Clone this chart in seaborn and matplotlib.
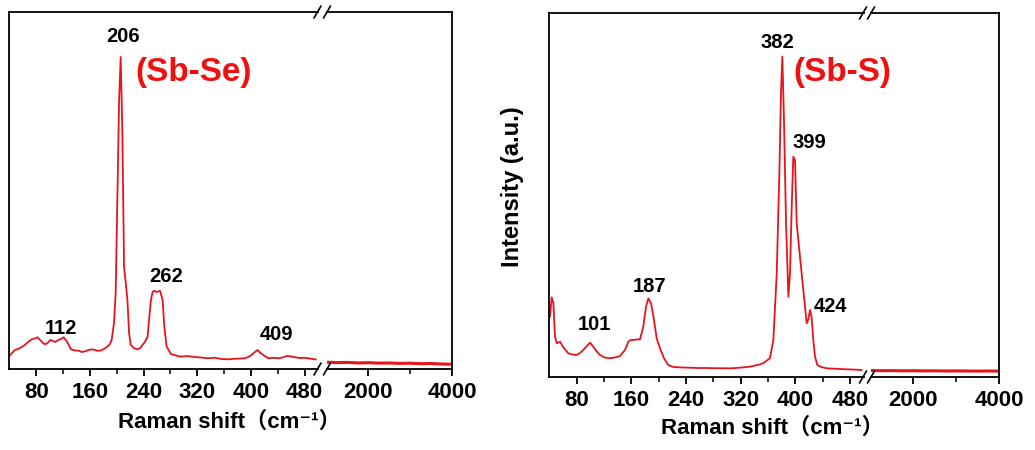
import matplotlib
matplotlib.use('Agg')
import matplotlib.pyplot as plt
from matplotlib.lines import Line2D
from matplotlib.ticker import FixedLocator
import seaborn as sns

# Sb-Se spectrum (low-shift part, 40-500 cm-1)
se_x = [40, 44, 48.5, 53, 58.6, 63, 68, 73.6, 78, 82, 86, 90, 93.5, 97, 101, 105, 108.5,
        113, 117, 121, 126, 132, 138, 143.5, 148, 153.5, 158, 163.5, 170, 176, 181, 186,
        190, 192.5, 196, 198.5, 201, 203.6, 206, 208.5, 211, 213.5, 216, 218.5, 221, 226,
        231, 235, 238.5, 242, 246, 251, 253.6, 256, 258.5, 261, 264.5, 268.5, 271, 274.5,
        281, 288, 296, 305, 316, 326, 336, 346, 356, 366, 378, 391, 396, 401, 405, 410,
        414, 418.5, 426, 434, 441, 447, 453.5, 460, 466, 473, 480, 486, 492, 497]
se_y = [13, 16, 19, 20, 22, 24, 27, 29.7, 30.5, 31.7, 29, 26, 24.7, 26, 29, 28, 27,
        29, 30, 31.7, 27.3, 19.7, 18.5, 18.3, 17, 17.7, 19, 19.7, 18.5, 18.3, 20, 22.3,
        25, 29, 45.7, 76, 169, 269, 312, 236, 102, 86, 69, 36, 24, 20.7,
        19.7, 21, 24, 27, 32.3, 69, 77.3, 78.3, 77, 77.3, 78.3, 69, 42.3, 22.3,
        15, 13.5, 12.3, 13, 12, 11.5, 10.7, 11.3, 10, 9.7, 10.3, 10.7, 12, 14, 16.5, 19,
        16, 14, 10.7, 11.2, 10.7, 11.5, 13, 12.5, 11.7, 11, 11.2, 10.7, 10, 9.5]
# Sb-Se high-shift part
se_far_x = [1000, 1250, 1500, 1750, 2000, 2250, 2500, 2750, 3000, 3250, 3500, 3750, 4000]
se_far_y = [6.8, 6.4, 6.6, 6.1, 6.3, 5.9, 6.0, 5.6, 5.8, 5.3, 5.5, 5.0, 4.8]

# Sb-S spectrum
sbs_x = [41, 43.5, 46, 48.3, 51, 55.7, 60.5, 67.8, 74, 80, 85, 89.8, 95, 99.6, 104.4, 109,
         114.2, 121, 128.9, 136, 143.5, 150.8, 155.7, 159, 163, 168, 172.8, 177.6, 181.6,
         185, 189, 193.3, 197.2, 202, 208, 214, 221.5, 235, 246, 258, 270, 282, 294.8, 307,
         319, 333.4, 345, 353, 363, 368, 373, 376.8, 379.3, 381.2, 383.7, 386.6, 390, 392.4,
         394.9, 397.2, 399.7, 402.2, 407, 411.9, 416.8, 419.5, 421.6, 424, 426.5, 429, 432.4,
         438, 446, 460, 475.4, 490, 497.4]
sbs_y = [60.3, 79.7, 73.7, 40.3, 33.7, 35.3, 29.7, 23.7, 22.5, 22, 24, 27, 31, 34.3, 30.3, 26,
         22, 19.5, 18.7, 19.5, 21, 27, 35.3, 37, 37, 37.5, 37.7, 50.3, 70.3,
         78.7, 73.7, 57, 38.7, 28.7, 18.7, 12, 10, 9.5, 9.3, 9, 9, 8.8, 8.7, 8.7,
         9.3, 10.3, 12, 13.7, 18.7, 37, 103.7, 203.7, 287, 320.3, 253.7, 153.7, 80.3, 103.7,
         170.3, 220.3, 217, 153.7, 120.3, 87, 53.7, 58, 67, 60.3, 37, 20.3, 12,
         10, 8.7, 8.2, 7.7, 7.3, 7]
sbs_far_x = [1000, 1250, 1500, 1750, 2000, 2250, 2500, 2750, 3000, 3250, 3500, 3750, 4000]
sbs_far_y = [6.5, 6.3, 6.4, 6.2, 6.3, 6.1, 6.2, 6.0, 6.1, 6.0, 5.9, 6.0, 5.9]

# peak labels
se_peaks = [("206", 209, 333), ("262", 273, 92), ("112", 117.5, 41), ("409", 438, 34)]
sbs_peaks = [("382", 374, 335), ("399", 420.7, 235), ("424", 451, 70),
             ("187", 186.4, 91), ("101", 105.4, 52)]

sns.set_style('ticks')
plt.rcParams['font.family'] = ['Liberation Sans', 'DejaVu Sans', 'Noto Sans CJK SC']
plt.rcParams['font.weight'] = 'bold'
plt.rcParams['axes.linewidth'] = 1.3
for k in ['text.color', 'axes.edgecolor', 'axes.labelcolor', 'xtick.color', 'ytick.color']:
    plt.rcParams[k] = 'black'

W, H = 1035, 450
fig = plt.figure(figsize=(W / 100, H / 100), dpi=100)


def add_ax(x0, x1, ytop, ybot):
    ax = fig.add_axes([x0 / W, 1 - ybot / H, (x1 - x0) / W, (ybot - ytop) / H])
    ax.set_facecolor('none')
    return ax


def slash(xc, yc):
    fig.add_artist(Line2D([(xc - 3.5) / W, (xc + 3.5) / W],
                          [1 - (yc + 6) / H, 1 - (yc - 6) / H],
                          color='black', lw=1.2))


red = '#e8141c'
panels = [
    dict(x=se_x, y=se_y, fx=se_far_x, fy=se_far_y, peaks=se_peaks, name='(Sb-Se)',
         name_xy=(315, 297), box=(9.3, 318, 326.5, 452, 12, 369), ymax=357, xlab=(229, 422)),
    dict(x=sbs_x, y=sbs_y, fx=sbs_far_x, fy=sbs_far_y, peaks=sbs_peaks, name='(Sb-S)',
         name_xy=(469, 304), box=(549.3, 863.5, 870.5, 999, 13, 377), ymax=364, xlab=(772, 428)),
]

for p in panels:
    a0, a1, b0, b1, yt, yb = p['box']
    ax1 = add_ax(a0, a1, yt, yb)
    ax2 = add_ax(b0, b1, yt, yb)

    sns.lineplot(x=p['x'], y=p['y'], ax=ax1, color=red, lw=1.3, estimator=None, sort=False)
    sns.lineplot(x=p['fx'], y=p['fy'], ax=ax2, color=red, lw=2.2, estimator=None, sort=False)

    ax1.set_xlim(40, 500)
    ax2.set_xlim(1000, 4000)
    for ax in (ax1, ax2):
        ax.set_ylim(0, p['ymax'])
        ax.set_yticks([])
        ax.set_xlabel('')
        ax.set_ylabel('')
        ax.tick_params(axis='x', which='major', direction='out', length=5, width=1.3,
                       labelsize=16, pad=4)
        ax.tick_params(axis='x', which='minor', direction='out', length=3.5, width=1.1)
    ax1.spines['right'].set_visible(False)
    ax2.spines['left'].set_visible(False)

    ax1.xaxis.set_major_locator(FixedLocator([80, 160, 240, 320, 400, 480]))
    ax1.xaxis.set_minor_locator(FixedLocator([120, 200, 280, 360, 440]))
    ax2.xaxis.set_major_locator(FixedLocator([2000, 4000]))
    ax2.xaxis.set_minor_locator(FixedLocator([3000]))
    ax1.set_xticklabels(['80', '160', '240', '320', '400', '480'], fontweight='bold', fontsize=16)
    ax2.set_xticklabels(['2000', '4000'], fontweight='bold', fontsize=16)

    for txt, tx, ty in p['peaks']:
        ax1.text(tx, ty, txt, ha='center', va='center', fontsize=14.5, fontweight='bold',
                 color='black')
    ax1.text(p['name_xy'][0], p['name_xy'][1], p['name'], ha='center', va='center',
             fontsize=24, fontweight='bold', color='#f01010', zorder=5)

    for yc in (yt, yb):
        slash(a1 - 0.5, yc)
        slash(b0 + 0.5, yc)

    fig.text(p['xlab'][0] / W, 1 - p['xlab'][1] / H, 'Raman shift\uff08cm\u207b\u00b9\uff09',
             ha='center', va='center', fontsize=16, fontweight='bold')

fig.text(513 / W, 1 - 187 / H, 'Intensity (a.u.)', rotation=90, ha='center', va='center',
         fontsize=17, fontweight='bold')

fig.savefig('out.png', dpi=100)
